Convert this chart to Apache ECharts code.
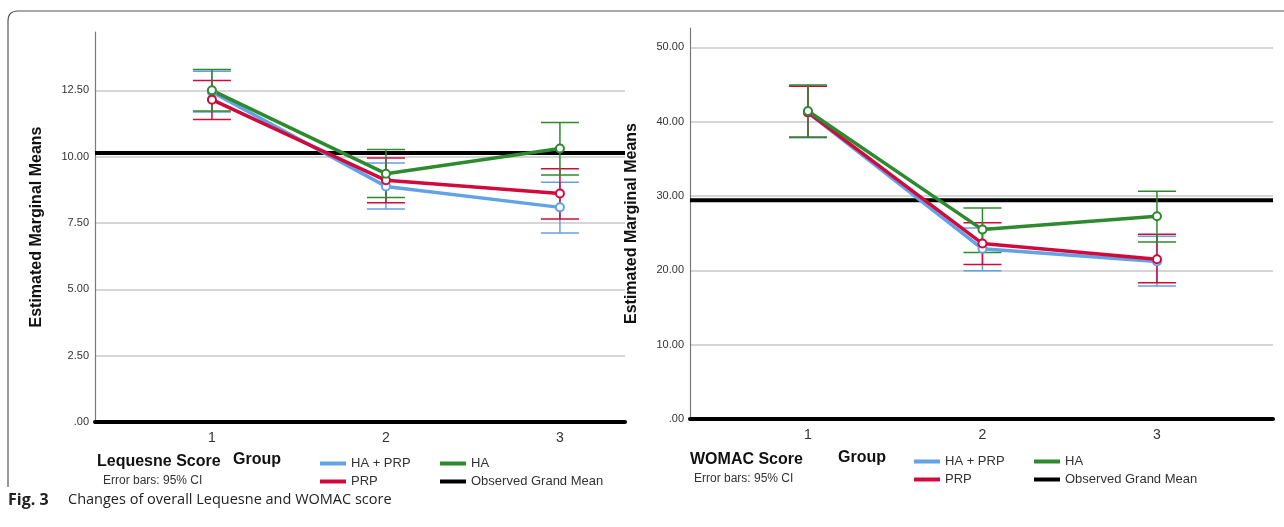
<!DOCTYPE html>
<html lang="en">
<head>
    <meta charset="UTF-8">
    <title>Lequesne and WOMAC score</title>
    <style>
        body{ margin: 0; background: #fff; }
        #main{ width: 1284px; height: 527px; }
    </style>
</head>
<body>
<div id="main"></div>
<script src="https://cdn.jsdelivr.net/npm/echarts@6/dist/echarts.min.js"></script>
<script>
    // time points (x axis)
    const timepoints = [1, 2, 3];

    // Lequesne score: means and 95% CI per group
    const lqHaPrp = [12.44, 8.88, 8.09];
    const lqHaPrpLow = [11.68, 8.03, 7.12];
    const lqHaPrpHigh = [13.22, 9.76, 9.04];
    const lqPrp = [12.15, 9.11, 8.61];
    const lqPrpLow = [11.40, 8.26, 7.65];
    const lqPrpHigh = [12.87, 9.95, 9.55];
    const lqHa = [12.50, 9.36, 10.31];
    const lqHaLow = [11.72, 8.46, 9.31];
    const lqHaHigh = [13.29, 10.27, 11.29];
    const lqGrandMean = 10.14;
    const lqTicks = [0, 2.5, 5, 7.5, 10, 12.5];

    // WOMAC score
    const wmHaPrp = [41.20, 22.90, 21.20];
    const wmHaPrpLow = [37.85, 19.96, 17.90];
    const wmHaPrpHigh = [44.76, 25.70, 24.60];
    const wmPrp = [41.25, 23.60, 21.48];
    const wmPrpLow = [37.89, 20.80, 18.34];
    const wmPrpHigh = [44.76, 26.40, 24.85];
    const wmHa = [41.44, 25.48, 27.28];
    const wmHaLow = [37.89, 22.40, 23.82];
    const wmHaHigh = [44.94, 28.40, 30.65];
    const wmGrandMean = 29.44;
    const wmTicks = [0, 10, 20, 30, 40, 50];

    const BLUE = '#62a2e6', RED = '#d20a3c', GREEN = '#2e8a2e';
    const FONT = '"Liberation Sans", Arial, sans-serif';

    const myChart = echarts.init(document.getElementById('main'));

    function pairs(ys) {
        return timepoints.map((t, i) => [t, ys[i]]);
    }
    function ciRows(low, high) {
        return timepoints.map((t, i) => [t, low[i], high[i]]);
    }

    // error bar with caps
    function errorBar(color) {
        return function (params, api) {
            const top = api.coord([api.value(0), api.value(2)]);
            const bot = api.coord([api.value(0), api.value(1)]);
            const hw = 19;
            const style = { stroke: color, lineWidth: 1.5 };
            return {
                type: 'group',
                children: [
                    { type: 'line', shape: { x1: top[0], y1: top[1], x2: bot[0], y2: bot[1] }, style: style },
                    { type: 'line', shape: { x1: top[0] - hw, y1: top[1], x2: top[0] + hw, y2: top[1] }, style: style },
                    { type: 'line', shape: { x1: bot[0] - hw, y1: bot[1], x2: bot[0] + hw, y2: bot[1] }, style: style }
                ]
            };
        };
    }

    function groupSeries(idx, name, color, means, low, high) {
        return [
            {
                type: 'custom',
                name: name,
                xAxisIndex: idx, yAxisIndex: idx,
                renderItem: errorBar(color),
                encode: { x: 0, y: [1, 2] },
                data: ciRows(low, high),
                itemStyle: { color: color },
                z: 3,
                silent: true
            },
            {
                type: 'line',
                name: name,
                xAxisIndex: idx, yAxisIndex: idx,
                data: pairs(means),
                symbol: 'emptyCircle',
                symbolSize: 8,
                color: color,
                lineStyle: { width: 3.5, color: color },
                itemStyle: { color: color, borderWidth: 1.3 },
                z: 4
            }
        ];
    }

    function chartSeries(idx, xr, mean, ticks, g) {
        return [
            // grey grid lines
            {
                type: 'line',
                name: 'grid' + idx,
                xAxisIndex: idx, yAxisIndex: idx,
                data: [[xr[0], 0]],
                symbol: 'none',
                z: 0,
                markLine: {
                    silent: true,
                    symbol: ['none', 'none'],
                    label: { show: false },
                    z: 0,
                    lineStyle: { color: '#c8c8c8', width: 1.5, type: 'solid' },
                    data: ticks.filter(v => v > 0).map(v => ({ yAxis: v }))
                }
            },
            {
                type: 'line',
                name: 'Observed Grand Mean',
                xAxisIndex: idx, yAxisIndex: idx,
                data: [[xr[0], mean], [xr[1], mean]],
                symbol: 'none',
                color: '#000',
                lineStyle: { color: '#000', width: 4 },
                z: 2
            }
        ].concat(
            groupSeries(idx, 'HA + PRP', BLUE, g[0][0], g[0][1], g[0][2]),
            groupSeries(idx, 'PRP', RED, g[1][0], g[1][1], g[1][2]),
            groupSeries(idx, 'HA', GREEN, g[2][0], g[2][1], g[2][2])
        );
    }

    const lqX = [0.328, 3.374];
    const wmX = [0.324, 3.665];

    function xAxisOpt(idx, xr) {
        return {
            type: 'value', gridIndex: idx, min: xr[0], max: xr[1],
            axisLine: { lineStyle: { color: '#000', width: 4 } },
            axisTick: { show: false },
            splitLine: { show: false },
            axisLabel: { customValues: timepoints, color: '#333', fontSize: 14, fontFamily: FONT, margin: 9 }
        };
    }
    function yAxisOpt(idx, max, ticks) {
        return {
            type: 'value', gridIndex: idx, min: 0, max: max,
            name: 'Estimated Marginal Means',
            nameLocation: 'middle',
            nameGap: 50,
            nameTextStyle: { fontSize: 16, fontWeight: 'bold', color: '#111', fontFamily: FONT },
            axisLine: { show: true, lineStyle: { color: '#7a7a7a', width: 1.2 } },
            axisTick: { show: false },
            splitLine: { show: false },
            axisLabel: {
                customValues: ticks,
                color: '#333', fontSize: 11, fontFamily: FONT, margin: 6,
                formatter: v => v === 0 ? '.00' : v.toFixed(2)
            }
        };
    }

    function legendOpt(left, top, names) {
        return {
            orient: 'vertical', left: left, top: top, padding: 0,
            data: names.map(n => ({ name: n, icon: 'rect' })),
            itemWidth: 26, itemHeight: 4, itemGap: 5,
            textStyle: { fontSize: 13, color: '#333', fontFamily: FONT }
        };
    }

    function label(x, y, text, size, bold) {
        return {
            type: 'text', x: x, y: y,
            style: { text: text, fontSize: size, fontWeight: bold ? 'bold' : 'normal', fill: bold ? '#111' : '#333', fontFamily: FONT, verticalAlign: 'middle' }
        };
    }

    const frame = { fill: 'none', stroke: '#555', lineWidth: 1.2 };

    myChart.setOption({
        animation: false,
        grid: [
            { left: 95, right: 659, top: 32, bottom: 105 },
            { left: 690, right: 11, top: 28, bottom: 108 }
        ],
        xAxis: [xAxisOpt(0, lqX), xAxisOpt(1, wmX)],
        yAxis: [yAxisOpt(0, 14.7, lqTicks), yAxisOpt(1, 52.6, wmTicks)],
        legend: [
            legendOpt(320, 457, ['HA + PRP', 'PRP']),
            legendOpt(440, 457, ['HA', 'Observed Grand Mean']),
            legendOpt(914, 455, ['HA + PRP', 'PRP']),
            legendOpt(1034, 455, ['HA', 'Observed Grand Mean'])
        ],
        graphic: [
            { type: 'line', shape: { x1: 8, y1: 487, x2: 8, y2: 21 }, style: frame },
            { type: 'bezierCurve', shape: { x1: 8, y1: 21, cpx1: 8, cpy1: 11, x2: 18, y2: 11 }, style: frame },
            { type: 'line', shape: { x1: 18, y1: 11, x2: 1284, y2: 11 }, style: frame },
            label(97, 462, 'Lequesne Score', 16, true),
            label(103, 481, 'Error bars: 95% CI', 12, false),
            label(233, 460, 'Group', 16, true),
            label(690, 460, 'WOMAC Score', 16, true),
            label(694, 479, 'Error bars: 95% CI', 12, false),
            label(838, 458, 'Group', 16, true),
            {
                type: 'text', x: 8, y: 500,
                style: { text: 'Fig. 3', fontSize: 16, fontWeight: 'bold', fill: '#222', fontFamily: '"Open Sans", sans-serif', verticalAlign: 'middle' }
            },
            {
                type: 'text', x: 68, y: 500,
                style: { text: 'Changes of overall Lequesne and WOMAC score', fontSize: 14.5, fill: '#222', fontFamily: '"Open Sans", sans-serif', verticalAlign: 'middle' }
            }
        ],
        series: chartSeries(0, lqX, lqGrandMean, lqTicks, [
            [lqHaPrp, lqHaPrpLow, lqHaPrpHigh],
            [lqPrp, lqPrpLow, lqPrpHigh],
            [lqHa, lqHaLow, lqHaHigh]
        ]).concat(chartSeries(1, wmX, wmGrandMean, wmTicks, [
            [wmHaPrp, wmHaPrpLow, wmHaPrpHigh],
            [wmPrp, wmPrpLow, wmPrpHigh],
            [wmHa, wmHaLow, wmHaHigh]
        ]))
    });
</script>
</body>
</html>
